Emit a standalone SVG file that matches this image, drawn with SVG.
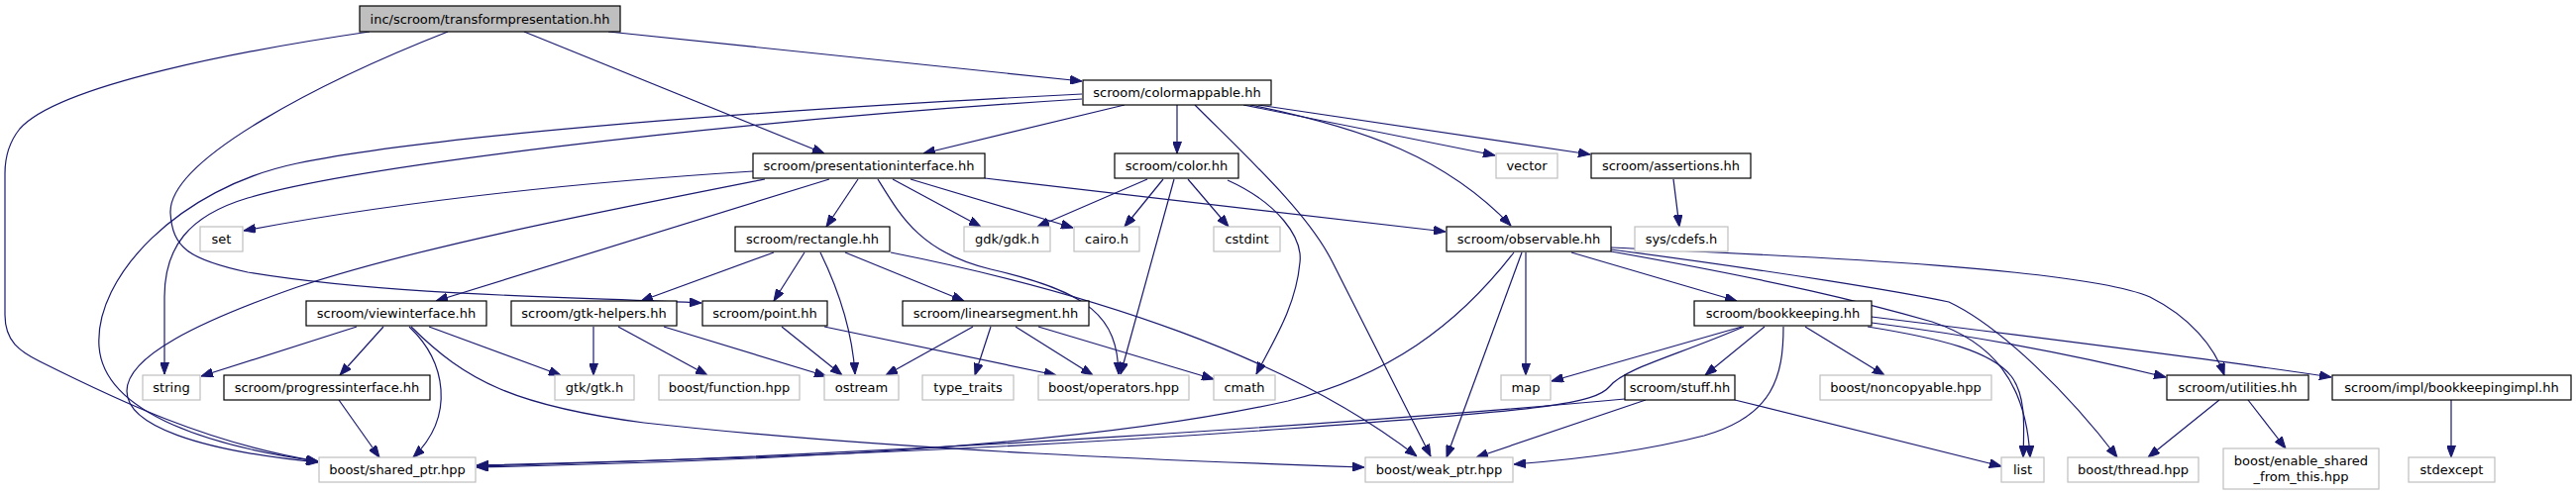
<svg xmlns="http://www.w3.org/2000/svg" width="2600" height="500" viewBox="0 0 2600 500">
<style>
.n rect{fill:#fff;stroke:#000;stroke-width:1.2}
.x rect{fill:#fff;stroke:#bfbfbf;stroke-width:1.2}
.r rect{fill:#bfbfbf;stroke:#000;stroke-width:1.2}
text{font-family:"DejaVu Sans","Liberation Sans",sans-serif;font-size:13px;fill:#000;text-anchor:middle}
#edges path{fill:none;stroke:#191970;stroke-width:1.2;marker-end:url(#ah)}
</style>
<defs>
<marker id="ah" viewBox="0 0 12 9" markerWidth="12" markerHeight="9" refX="12" refY="4.5" orient="auto" markerUnits="userSpaceOnUse">
<path d="M0,0 L12,4.5 L0,9 z" fill="#191970" stroke="#191970"/>
</marker>
</defs>
<rect width="2600" height="500" fill="#fff"/>
<g id="edges">
<path d="M373,32 C250,50 60,85 20,130 C8,145 5,160 5,175 L5,318 C5,345 20,355 40,365 C120,405 210,448 321,466"/>
<path d="M452,32 C330,80 170,160 172,215 C174,250 190,262 250,275 C400,300 600,300 708,306"/>
<path d="M529,32 L832,155"/>
<path d="M614,32 L1092,82"/>
<path d="M1135,106 L932,155"/>
<path d="M1188,106 L1188,155"/>
<path d="M1255,106 L1509,157"/>
<path d="M1270,106 L1605,156"/>
<path d="M1262,106 C1380,130 1460,160 1525,228"/>
<path d="M1206,106 C1260,160 1320,215 1345,265 L1444,461"/>
<path d="M1092,95 C700,115 420,140 300,165 C180,190 95,280 100,350 C105,420 220,452 321,466"/>
<path d="M1092,100 C700,125 350,170 250,200 C190,218 166,250 166,300 L166,378"/>
<path d="M760,173 C650,180 450,195 246,233"/>
<path d="M772,181 C600,215 420,250 300,290 C200,325 128,360 128,395 C128,430 200,455 321,467"/>
<path d="M837,181 L440,304"/>
<path d="M866,181 L834,229"/>
<path d="M886,181 C910,220 930,255 1000,272 C1100,295 1128,320 1129,378"/>
<path d="M901,181 L990,229"/>
<path d="M919,181 L1083,230"/>
<path d="M994,180 L1459,234"/>
<path d="M1158,181 L1047,229"/>
<path d="M1174,181 L1135,229"/>
<path d="M1199,181 L1240,229"/>
<path d="M1185,181 L1131,378"/>
<path d="M1239,182 C1290,205 1315,240 1312,265 C1308,310 1285,345 1268,378"/>
<path d="M1689,181 L1695,229"/>
<path d="M781,255 L647,304"/>
<path d="M812,255 L781,304"/>
<path d="M828,255 C845,290 860,330 863,378"/>
<path d="M853,255 L973,304"/>
<path d="M899,255 C1100,295 1300,360 1430,461"/>
<path d="M599,330 L599,379"/>
<path d="M624,330 L714,379"/>
<path d="M670,330 L834,380"/>
<path d="M789,330 L850,379"/>
<path d="M832,330 L1066,379"/>
<path d="M982,330 L894,379"/>
<path d="M1000,330 L984,379"/>
<path d="M1025,330 L1103,379"/>
<path d="M1048,330 L1225,383"/>
<path d="M360,330 L203,380"/>
<path d="M387,330 L343,379"/>
<path d="M413,330 C450,365 460,420 417,462"/>
<path d="M433,330 L566,379"/>
<path d="M415,330 C470,385 520,410 650,427 C900,455 1200,466 1377,472"/>
<path d="M342,404 L383,462"/>
<path d="M1528,255 C1470,330 1400,380 1300,405 C1100,450 800,465 481,472"/>
<path d="M1536,255 L1460,462"/>
<path d="M1540,255 L1540,379"/>
<path d="M1586,255 L1753,304"/>
<path d="M1626,250 C1800,258 2100,270 2170,300 C2210,320 2235,350 2245,379"/>
<path d="M1626,252 C1800,275 1920,295 1967,305 C2020,330 2090,400 2137,462"/>
<path d="M1626,254 C1800,285 1880,305 1950,325 C2010,345 2045,385 2049,462"/>
<path d="M1758,330 L1566,385"/>
<path d="M1760,330 C1690,360 1640,372 1625,390 C1610,408 1560,414 1300,433 C1000,455 700,465 481,470"/>
<path d="M1781,330 L1721,379"/>
<path d="M1800,330 C1800,380 1790,420 1720,440 C1650,458 1580,465 1528,469"/>
<path d="M1822,330 L1902,379"/>
<path d="M1885,330 C1960,342 2010,355 2030,380 C2045,400 2043,430 2042,462"/>
<path d="M1889,326 C2000,340 2100,360 2186,381"/>
<path d="M1889,320 C2050,340 2250,365 2353,381"/>
<path d="M1640,403 C1400,425 900,460 481,471"/>
<path d="M1661,404 L1490,462"/>
<path d="M1751,404 L2020,471"/>
<path d="M2240,404 L2168,462"/>
<path d="M2269,404 L2307,453"/>
<path d="M2474,404 L2474,462"/>
</g>
<g id="n_transformpresentation" class="r"><rect x="363" y="6" width="263" height="26"/><text x="494.5" y="24">inc/scroom/transformpresentation.hh</text></g>
<g id="n_colormappable" class="n"><rect x="1093" y="81" width="190" height="25"/><text x="1188" y="98">scroom/colormappable.hh</text></g>
<g id="n_presentationinterface" class="n"><rect x="760" y="155" width="234" height="25"/><text x="877" y="172">scroom/presentationinterface.hh</text></g>
<g id="n_color" class="n"><rect x="1125" y="155" width="125" height="25"/><text x="1187.5" y="172">scroom/color.hh</text></g>
<g id="n_vector" class="x"><rect x="1510" y="155" width="62" height="25"/><text x="1541" y="172">vector</text></g>
<g id="n_assertions" class="n"><rect x="1606" y="155" width="161" height="25"/><text x="1686.5" y="172">scroom/assertions.hh</text></g>
<g id="n_syscdefs" class="x"><rect x="1650" y="229" width="94" height="25"/><text x="1697" y="246">sys/cdefs.h</text></g>
<g id="n_set" class="x"><rect x="202" y="229" width="43" height="25"/><text x="223.5" y="246">set</text></g>
<g id="n_rectangle" class="n"><rect x="742" y="229" width="156" height="25"/><text x="820" y="246">scroom/rectangle.hh</text></g>
<g id="n_gdk" class="x"><rect x="973" y="229" width="87" height="25"/><text x="1016.5" y="246">gdk/gdk.h</text></g>
<g id="n_cairo" class="x"><rect x="1084" y="229" width="66" height="25"/><text x="1117" y="246">cairo.h</text></g>
<g id="n_cstdint" class="x"><rect x="1225" y="229" width="67" height="25"/><text x="1258.5" y="246">cstdint</text></g>
<g id="n_observable" class="n"><rect x="1460" y="229" width="166" height="25"/><text x="1543" y="246">scroom/observable.hh</text></g>
<g id="n_viewinterface" class="n"><rect x="309" y="304" width="182" height="25"/><text x="400" y="321">scroom/viewinterface.hh</text></g>
<g id="n_gtkhelpers" class="n"><rect x="516" y="304" width="167" height="25"/><text x="599.5" y="321">scroom/gtk-helpers.hh</text></g>
<g id="n_point" class="n"><rect x="709" y="304" width="126" height="25"/><text x="772" y="321">scroom/point.hh</text></g>
<g id="n_linearsegment" class="n"><rect x="911" y="304" width="188" height="25"/><text x="1005" y="321">scroom/linearsegment.hh</text></g>
<g id="n_bookkeeping" class="n"><rect x="1710" y="304" width="179" height="25"/><text x="1799.5" y="321">scroom/bookkeeping.hh</text></g>
<g id="n_utilities" class="n"><rect x="2187" y="379" width="143" height="25"/><text x="2258.5" y="396">scroom/utilities.hh</text></g>
<g id="n_bookkeepingimpl" class="n"><rect x="2354" y="379" width="241" height="25"/><text x="2474.5" y="396">scroom/impl/bookkeepingimpl.hh</text></g>
<g id="n_string" class="x"><rect x="144" y="379" width="58" height="25"/><text x="173" y="396">string</text></g>
<g id="n_progressinterface" class="n"><rect x="226" y="379" width="208" height="25"/><text x="330" y="396">scroom/progressinterface.hh</text></g>
<g id="n_gtk" class="x"><rect x="560" y="379" width="80" height="25"/><text x="600" y="396">gtk/gtk.h</text></g>
<g id="n_function" class="x"><rect x="665" y="379" width="142" height="25"/><text x="736" y="396">boost/function.hpp</text></g>
<g id="n_ostream" class="x"><rect x="832" y="379" width="75" height="25"/><text x="869.5" y="396">ostream</text></g>
<g id="n_typetraits" class="x"><rect x="931" y="379" width="92" height="25"/><text x="977" y="396">type_traits</text></g>
<g id="n_operators" class="x"><rect x="1048" y="379" width="152" height="25"/><text x="1124" y="396">boost/operators.hpp</text></g>
<g id="n_cmath" class="x"><rect x="1225" y="379" width="62" height="25"/><text x="1256" y="396">cmath</text></g>
<g id="n_map" class="x"><rect x="1515" y="379" width="50" height="25"/><text x="1540" y="396">map</text></g>
<g id="n_stuff" class="n"><rect x="1640" y="379" width="111" height="25"/><text x="1695.5" y="396">scroom/stuff.hh</text></g>
<g id="n_noncopyable" class="x"><rect x="1837" y="379" width="173" height="25"/><text x="1923.5" y="396">boost/noncopyable.hpp</text></g>
<g id="n_list" class="x"><rect x="2020" y="462" width="43" height="25"/><text x="2041.5" y="479">list</text></g>
<g id="n_thread" class="x"><rect x="2087" y="462" width="132" height="25"/><text x="2153" y="479">boost/thread.hpp</text></g>
<g id="n_enableshared" class="x"><rect x="2244" y="453" width="157" height="41"/><text x="2322.5" y="470">boost/enable_shared</text><text x="2322.5" y="486">_from_this.hpp</text></g>
<g id="n_stdexcept" class="x"><rect x="2431" y="462" width="87" height="25"/><text x="2474.5" y="479">stdexcept</text></g>
<g id="n_sharedptr" class="x"><rect x="322" y="462" width="158" height="25"/><text x="401" y="479">boost/shared_ptr.hpp</text></g>
<g id="n_weakptr" class="x"><rect x="1378" y="462" width="149" height="25"/><text x="1452.5" y="479">boost/weak_ptr.hpp</text></g>
</svg>
